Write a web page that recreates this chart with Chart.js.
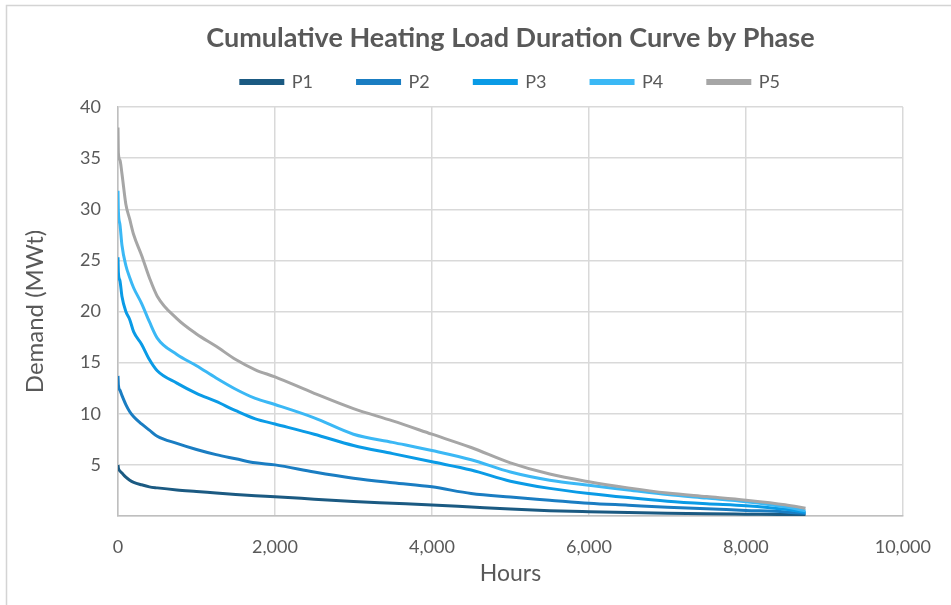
<!DOCTYPE html>
<html>
<head>
<meta charset="utf-8">
<script src="https://cdn.jsdelivr.net/npm/chart.js@4.4.0/dist/chart.umd.min.js"></script>
<style>
html,body{margin:0;padding:0;background:#fff;}
#wrap{width:951px;height:605px;position:relative;}
</style>
</head>
<body>
<div id="wrap"><canvas id="c"></canvas></div>
<script>
const hours = [0, 5, 25, 50, 100, 150, 200, 300, 400, 500, 750, 1000, 1250, 1500, 1750, 2000, 2500, 3000, 3500, 4000, 4500, 5000, 5500, 6000, 6500, 7000, 7500, 8000, 8500, 8760];
const P1 = [5.0, 4.7, 4.4, 4.2, 3.8, 3.5, 3.3, 3.05, 2.85, 2.75, 2.55, 2.4, 2.25, 2.1, 1.98, 1.88, 1.65, 1.42, 1.25, 1.08, 0.88, 0.68, 0.52, 0.42, 0.34, 0.27, 0.22, 0.18, 0.14, 0.1];
const P2 = [13.7, 12.8, 12.3, 11.8, 10.9, 10.2, 9.7, 9.0, 8.4, 7.8, 7.1, 6.5, 6.0, 5.6, 5.2, 5.0, 4.3, 3.7, 3.25, 2.85, 2.2, 1.85, 1.55, 1.25, 1.05, 0.85, 0.7, 0.55, 0.4, 0.25];
const P3 = [25.3, 23.8, 23.0, 21.5, 20.0, 19.2, 18.0, 16.8, 15.3, 14.2, 13.0, 12.0, 11.2, 10.3, 9.5, 9.0, 8.0, 6.9, 6.1, 5.3, 4.5, 3.4, 2.7, 2.2, 1.8, 1.45, 1.2, 1.0, 0.65, 0.35];
const P4 = [31.8, 29.8, 28.5, 26.5, 24.5, 23.3, 22.3, 20.8, 19.0, 17.4, 15.8, 14.7, 13.5, 12.4, 11.5, 10.9, 9.6, 8.0, 7.2, 6.4, 5.5, 4.3, 3.5, 3.0, 2.55, 2.1, 1.75, 1.4, 0.9, 0.5];
const P5 = [38.0, 35.5, 34.8, 33.5, 30.5, 29.0, 27.5, 25.5, 23.3, 21.5, 19.3, 17.8, 16.6, 15.3, 14.3, 13.6, 12.0, 10.5, 9.3, 8.0, 6.7, 5.2, 4.1, 3.35, 2.75, 2.25, 1.9, 1.55, 1.1, 0.75];
const seriesNames = ['P1', 'P2', 'P3', 'P4', 'P5'];
const seriesValues = [P1, P2, P3, P4, P5];
const seriesColors = ['#1B5A82', '#1A7DC2', '#0A9BE6', '#3BB8F5', '#A6A6A6'];
const yTicks = [0, 5, 10, 15, 20, 25, 30, 35, 40];
const xTicks = [0, 2000, 4000, 6000, 8000, 10000];

const TXT = '#595959';
const FONT = 'Lato';

const datasets = seriesNames.map((name, i) => ({
  label: name,
  data: hours.map((h, j) => ({x: h, y: seriesValues[i][j]})),
  borderColor: seriesColors[i],
  backgroundColor: seriesColors[i],
  borderWidth: 3,
  pointRadius: 0,
  cubicInterpolationMode: 'monotone',
  order: 5 - i
}));

const framePlugin = {
  id: 'frame',
  beforeDraw(chart) {
    const ctx = chart.ctx;
    ctx.save();
    ctx.strokeStyle = '#D4D4D4';
    ctx.lineWidth = 1.5;
    ctx.beginPath();
    ctx.moveTo(6.5, 605);
    ctx.lineTo(6.5, 5.5);
    ctx.lineTo(951, 5.5);
    ctx.stroke();
    ctx.restore();
  }
};

// Legend: keep a compact box in the layout, but draw its row higher up (its label padding also sets item spacing)
const LEGEND_H = 42.6;
const LEGEND_SHIFT = 36;
const legendFitPlugin = {
  id: 'legendFit',
  beforeUpdate(chart) {
    const lg = chart.legend;
    if (lg && !lg._fitWrapped) {
      const origFit = lg.fit;
      lg.fit = function () { origFit.call(this); this.height = LEGEND_H; };
      const origDraw = lg.draw;
      lg.draw = function () {
        const t = this.top;
        this.top = t - LEGEND_SHIFT;
        origDraw.call(this);
        this.top = t;
      };
      lg._fitWrapped = true;
    }
  }
};

new Chart(document.getElementById('c'), {
  type: 'line',
  data: { datasets },
  plugins: [framePlugin, legendFitPlugin],
  options: {
    responsive: true,
    maintainAspectRatio: false,
    animation: false,
    layout: { padding: { left: 8, right: 47, top: 0, bottom: 9 } },
    plugins: {
      title: {
        display: true,
        fullSize: false,
        text: 'Cumulative Heating Load Duration Curve by Phase',
        color: TXT,
        font: { family: FONT, size: 27, weight: 'bold' },
        padding: { top: 22, bottom: 10 }
      },
      legend: {
        display: true,
        fullSize: false,
        labels: {
          color: TXT,
          font: { family: FONT, size: 18 },
          boxWidth: 42,
          boxHeight: 3,
          padding: 44.5,
          sort: (a, b) => a.datasetIndex - b.datasetIndex
        }
      },
      tooltip: { enabled: false }
    },
    scales: {
      x: {
        type: 'linear',
        min: 0,
        max: 10000,
        afterBuildTicks(scale) { scale.ticks = xTicks.map(v => ({value: v})); },
        afterFit(scale) { scale.height = 80; },
        ticks: {
          color: TXT,
          font: { family: FONT, size: 18 },
          padding: 20,
          maxRotation: 0,
          callback: v => v.toLocaleString('en-US')
        },
        grid: { color: '#D9D9D9', lineWidth: 1.5, drawTicks: false },
        border: { color: '#BFBFBF', width: 1.5 },
        title: {
          display: true,
          text: 'Hours',
          color: TXT,
          font: { family: FONT, size: 23 },
          padding: { top: 0, bottom: 9 }
        }
      },
      y: {
        type: 'linear',
        min: 0,
        max: 40,
        afterBuildTicks(scale) { scale.ticks = yTicks.map(v => ({value: v})); },
        afterFit(scale) { scale.width = 110; },
        ticks: {
          color: TXT,
          font: { family: FONT, size: 18 },
          padding: 17,
          callback: v => (v === 0 ? '' : String(v))
        },
        grid: { color: '#D9D9D9', lineWidth: 1.5, drawTicks: false },
        border: { color: '#BFBFBF', width: 1.5 },
        title: {
          display: true,
          text: 'Demand (MWt)',
          color: TXT,
          font: { family: FONT, size: 24 },
          padding: { top: 13, bottom: 0 }
        }
      }
    }
  }
});
</script>
</body>
</html>
